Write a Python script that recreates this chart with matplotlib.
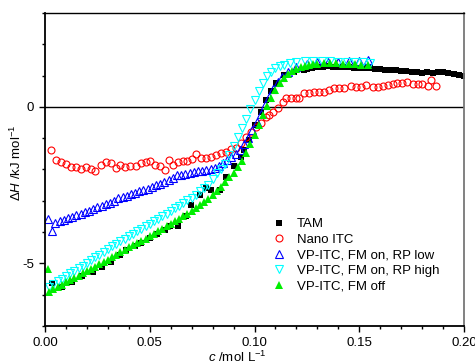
import matplotlib
matplotlib.use("Agg")
import matplotlib.pyplot as plt
from matplotlib.ticker import MultipleLocator, FormatStrFormatter

plt.rcParams['font.family'] = ['Liberation Sans', 'DejaVu Sans']
plt.rcParams['mathtext.fontset'] = 'custom'
plt.rcParams['mathtext.rm'] = 'Liberation Sans'
plt.rcParams['mathtext.it'] = 'Liberation Sans:italic'
plt.rcParams['axes.unicode_minus'] = False

# TAM
tam_c = [0.0032, 0.0080, 0.0127, 0.0176, 0.0230, 0.0270, 0.0314, 0.0357, 0.0389, 0.0429,
         0.0460, 0.0500, 0.0533, 0.0571, 0.0595, 0.0635, 0.0675, 0.0698, 0.0738, 0.0770,
         0.0794, 0.0833, 0.0865, 0.0900, 0.0937, 0.0952, 0.0976, 0.1000, 0.1032, 0.1056,
         0.1079, 0.1103, 0.1143, 0.1190, 0.1238,
         0.1250, 0.1275, 0.1300, 0.1325, 0.1350, 0.1375, 0.1400, 0.1425, 0.1450, 0.1475,
         0.1500, 0.1525, 0.1550, 0.1575, 0.1600, 0.1625, 0.1650, 0.1675, 0.1700, 0.1725,
         0.1750, 0.1775, 0.1800, 0.1825, 0.1850, 0.1875, 0.1900, 0.1925, 0.1950, 0.1975,
         0.2000]
tam_dH = [-5.62, -5.74, -5.58, -5.40, -5.26, -5.10, -4.95, -4.73, -4.57, -4.45,
          -4.35, -4.19, -4.05, -3.93, -3.82, -3.80, -3.50, -3.13, -2.81, -2.60,
          -2.65, -2.65, -2.23, -1.90, -1.59, -1.37, -1.05, -0.58, -0.15, 0.22,
          0.50, 0.76, 1.02, 1.13, 1.18,
          1.22, 1.25, 1.28, 1.28, 1.30, 1.28, 1.28, 1.27, 1.26, 1.25,
          1.25, 1.24, 1.24, 1.22, 1.20, 1.19, 1.18, 1.18, 1.16, 1.15,
          1.13, 1.10, 1.08, 1.10, 1.07, 1.12, 1.13, 1.08, 1.05, 1.03,
          0.99]

# Nano ITC
nano_c = [0.0027, 0.0051, 0.0075, 0.0099, 0.0122, 0.0146, 0.0170, 0.0194, 0.0218, 0.0241,
          0.0265, 0.0289, 0.0313, 0.0337, 0.0360, 0.0384, 0.0408, 0.0432, 0.0456, 0.0480,
          0.0503, 0.0527, 0.0551, 0.0571, 0.0590, 0.0611, 0.0635, 0.0659, 0.0680, 0.0703,
          0.0722, 0.0746, 0.0770, 0.0794, 0.0818, 0.0841, 0.0865, 0.0889, 0.0913, 0.0937,
          0.0960, 0.0984, 0.1008, 0.1032, 0.1056, 0.1071, 0.1087, 0.1111, 0.1135, 0.1151,
          0.1175, 0.1198, 0.1214, 0.1238, 0.1262, 0.1286, 0.1310, 0.1333, 0.1357, 0.1381,
          0.1405, 0.1429, 0.1460, 0.1484, 0.1508, 0.1532, 0.1563, 0.1587, 0.1611, 0.1635,
          0.1659, 0.1682, 0.1706, 0.1730, 0.1754, 0.1778, 0.1801, 0.1829, 0.1843, 0.1865]
nano_dH = [-1.37, -1.69, -1.77, -1.82, -1.91, -1.93, -1.97, -1.93, -1.97, -2.04,
           -1.85, -1.75, -1.78, -1.96, -1.86, -1.91, -1.89, -1.88, -1.80, -1.77,
           -1.72, -1.85, -1.88, -2.03, -1.69, -1.85, -1.75, -1.73, -1.73, -1.68,
           -1.51, -1.64, -1.64, -1.59, -1.54, -1.48, -1.43, -1.35, -1.30, -1.16,
           -0.95, -0.79, -0.63, -0.52, -0.31, -0.26, -0.16, -0.04, 0.17, 0.28,
           0.28, 0.28, 0.28, 0.44, 0.44, 0.49, 0.49, 0.46, 0.54, 0.60,
           0.60, 0.60, 0.67, 0.63, 0.63, 0.70, 0.63, 0.63, 0.67, 0.70,
           0.74, 0.77, 0.77, 0.81, 0.74, 0.72, 0.72, 0.67, 0.85, 0.67]

# VP-ITC, FM on, RP low
low_c = [0.0016, 0.0032, 0.005, 0.007, 0.009, 0.011, 0.013, 0.015, 0.017, 0.019,
         0.021, 0.023, 0.025, 0.027, 0.029, 0.031, 0.033, 0.035, 0.037, 0.039,
         0.041, 0.043, 0.045, 0.047, 0.049, 0.051, 0.053, 0.055, 0.057, 0.059,
         0.061, 0.063, 0.065, 0.067, 0.069, 0.071, 0.073, 0.075, 0.077, 0.079,
         0.081, 0.083, 0.085, 0.087, 0.089, 0.091, 0.093, 0.095, 0.097, 0.099,
         0.101, 0.103, 0.105, 0.107, 0.109, 0.111, 0.113, 0.116, 0.120, 0.125,
         0.130, 0.135, 0.140, 0.145, 0.150, 0.154]
low_dH = [-3.59, -3.98, -3.72, -3.66, -3.61, -3.56, -3.51, -3.46, -3.41, -3.36,
          -3.31, -3.26, -3.21, -3.16, -3.11, -3.06, -3.01, -2.91, -2.88, -2.84,
          -2.79, -2.74, -2.70, -2.65, -2.61, -2.56, -2.50, -2.45, -2.40, -2.34,
          -2.27, -2.19, -2.16, -2.13, -2.10, -2.08, -2.06, -2.04, -2.02, -2.00,
          -1.95, -1.88, -1.80, -1.70, -1.60, -1.49, -1.37, -1.20, -0.98, -0.74,
          -0.48, -0.22, 0.05, 0.32, 0.57, 0.78, 0.96, 1.13, 1.27, 1.37,
          1.42, 1.43, 1.44, 1.46, 1.48, 1.49]

# VP-ITC, FM on, RP high
high_c = [0.002, 0.004, 0.006, 0.008, 0.010, 0.012, 0.014, 0.016, 0.018, 0.020,
          0.022, 0.024, 0.026, 0.028, 0.030, 0.032, 0.034, 0.036, 0.038, 0.040,
          0.042, 0.044, 0.046, 0.048, 0.050, 0.052, 0.054, 0.056, 0.058, 0.060,
          0.062, 0.064, 0.066, 0.068, 0.070, 0.072, 0.074, 0.076, 0.078, 0.080,
          0.082, 0.084, 0.086, 0.088, 0.090, 0.092, 0.094, 0.096, 0.098, 0.100,
          0.102, 0.104, 0.106, 0.108, 0.110, 0.112, 0.114, 0.117, 0.120, 0.124,
          0.128, 0.132, 0.136, 0.140, 0.144, 0.148, 0.152, 0.155]
high_dH = [-5.74, -5.66, -5.57, -5.49, -5.41, -5.32, -5.24, -5.15, -5.07, -4.98,
           -4.89, -4.80, -4.72, -4.63, -4.54, -4.46, -4.37, -4.29, -4.21, -4.13,
           -4.05, -3.97, -3.89, -3.81, -3.73, -3.65, -3.57, -3.49, -3.41, -3.33,
           -3.24, -3.16, -3.08, -2.99, -2.90, -2.80, -2.70, -2.59, -2.48, -2.30,
           -2.12, -1.98, -1.83, -1.55, -1.25, -0.95, -0.68, -0.38, -0.08, 0.22,
           0.50, 0.76, 0.98, 1.13, 1.23, 1.30, 1.35, 1.40, 1.43, 1.46,
           1.47, 1.47, 1.46, 1.45, 1.44, 1.43, 1.42, 1.41]

# VP-ITC, FM off
off_c = [0.0016, 0.002, 0.004, 0.006, 0.008, 0.010, 0.012, 0.014, 0.016, 0.018,
         0.020, 0.022, 0.024, 0.026, 0.028, 0.030, 0.032, 0.034, 0.036, 0.038,
         0.040, 0.042, 0.044, 0.046, 0.048, 0.050, 0.052, 0.054, 0.056, 0.058,
         0.060, 0.062, 0.064, 0.066, 0.068, 0.070, 0.072, 0.074, 0.076, 0.078,
         0.080, 0.082, 0.084, 0.086, 0.088, 0.090, 0.092, 0.094, 0.096, 0.098,
         0.100, 0.102, 0.104, 0.106, 0.108, 0.110, 0.112, 0.114, 0.116, 0.118,
         0.120, 0.122, 0.124, 0.126, 0.128, 0.130, 0.133, 0.136, 0.139, 0.142,
         0.145, 0.148, 0.151, 0.154]
off_dH = [-5.19, -5.90, -5.83, -5.76, -5.68, -5.61, -5.54, -5.46, -5.39, -5.32,
          -5.24, -5.17, -5.10, -5.02, -4.95, -4.88, -4.80, -4.73, -4.64, -4.56,
          -4.49, -4.42, -4.35, -4.28, -4.21, -4.14, -4.06, -3.98, -3.90, -3.82,
          -3.74, -3.66, -3.58, -3.49, -3.41, -3.32, -3.23, -3.13, -3.03, -2.93,
          -2.82, -2.69, -2.55, -2.40, -2.25, -2.10, -1.93, -1.72, -1.48, -1.20,
          -0.90, -0.58, -0.27, 0.02, 0.30, 0.55, 0.76, 0.92, 1.05, 1.14,
          1.21, 1.27, 1.31, 1.34, 1.36, 1.38, 1.39, 1.39, 1.39, 1.38,
          1.37, 1.36, 1.35, 1.34]

fig = plt.figure(figsize=(4.75, 3.64), dpi=100)
ax = fig.add_axes([0.0947, 0.1044, 0.8823, 0.8599])

ax.axhline(0, color='black', lw=1.0, zorder=1)

ax.plot(tam_c, tam_dH, 's', color='black', ms=4, mew=0, label='TAM')
ax.plot(nano_c, nano_dH, 'o', mfc='none', mec='red', ms=5, mew=0.8, label='Nano ITC')
ax.plot(low_c, low_dH, '^', mfc='none', mec='blue', ms=5.5, mew=0.8,
        label='VP-ITC, FM on, RP low')
ax.plot(high_c, high_dH, 'v', mfc='none', mec='cyan', ms=5.5, mew=0.8,
        label='VP-ITC, FM on, RP high')
ax.plot(off_c, off_dH, '^', color='#00ee00', ms=6, mew=0,
        label='VP-ITC, FM off')

ax.set_xlim(0, 0.2)
ax.set_ylim(-7, 3)
ax.xaxis.set_major_locator(MultipleLocator(0.05))
ax.xaxis.set_minor_locator(MultipleLocator(0.01))
ax.xaxis.set_major_formatter(FormatStrFormatter('%.2f'))
ax.set_yticks([-5, 0])
ax.yaxis.set_minor_locator(MultipleLocator(1))
ax.tick_params(which='major', direction='out', length=4.2, width=1, labelsize=9.5)
ax.tick_params(which='minor', direction='out', length=2, width=1)

for side in ['left', 'bottom']:
    ax.spines[side].set_linewidth(1.3)
ax.spines['top'].set_linewidth(1.0)
ax.spines['right'].set_color('#777777')
ax.spines['right'].set_linewidth(1.3)

ax.set_xlabel(r'$\mathit{c}$ /mol L$^{-1}$', fontsize=9.5)
ax.xaxis.set_label_coords(0.46, -0.076)
ax.set_ylabel(r'Δ$\mathit{H}$ /kJ mol$^{-1}$', fontsize=9.5)
ax.yaxis.set_label_coords(-0.05, 0.52)

ax.legend(loc='upper left', bbox_to_anchor=(0.542, 0.345), frameon=False,
          fontsize=9.5, handlelength=1.0, handletextpad=0.85, borderpad=0,
          labelspacing=0.25, borderaxespad=0)

fig.savefig('out.png', dpi=100)
